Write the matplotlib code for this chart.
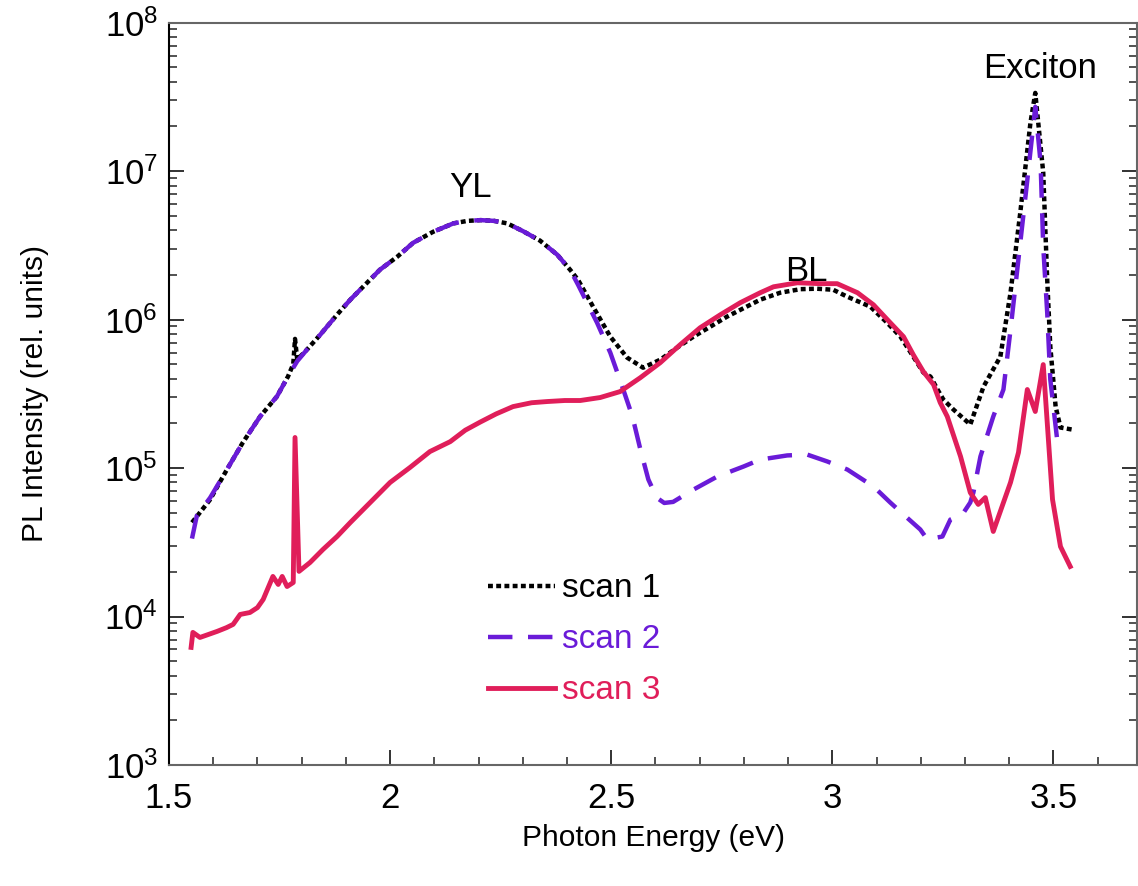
import matplotlib
matplotlib.use("Agg")
import matplotlib.pyplot as plt
from matplotlib.ticker import MultipleLocator, FuncFormatter, LogLocator, NullFormatter
import numpy as np

plt.rcParams['font.family'] = ['Liberation Sans', 'DejaVu Sans']
plt.rcParams['mathtext.fontset'] = 'custom'
plt.rcParams['mathtext.rm'] = 'Liberation Sans'
plt.rcParams['mathtext.it'] = 'Liberation Sans'
plt.rcParams['mathtext.default'] = 'regular'

# ---- data (photon energy in eV, intensity as log10 of rel. units) ----
scan1_x = [1.552, 1.563, 1.593, 1.631, 1.667, 1.706, 1.744, 1.769, 1.781, 1.785, 1.790,
           1.812, 1.842, 1.880, 1.910, 1.977, 2.016, 2.052, 2.097, 2.143, 2.175, 2.205, 2.235,
           2.265, 2.301, 2.339, 2.378, 2.407, 2.425, 2.459, 2.498, 2.536, 2.572, 2.611,
           2.649, 2.686, 2.724, 2.762, 2.837, 2.882, 2.928, 2.965, 3.002, 3.034, 3.086, 3.124,
           3.154, 3.176, 3.206, 3.222, 3.238, 3.251, 3.274, 3.312, 3.342, 3.380, 3.403,
           3.425, 3.448, 3.459, 3.477, 3.486, 3.493, 3.505, 3.516, 3.543]
scan1_log = [4.633, 4.674, 4.788, 4.990, 5.172, 5.347, 5.482, 5.616, 5.700, 5.870, 5.730,
             5.798, 5.898, 6.033, 6.134, 6.336, 6.423, 6.517, 6.591, 6.648, 6.665, 6.670, 6.665,
             6.648, 6.595, 6.532, 6.437, 6.336, 6.268, 6.087, 5.885, 5.744, 5.676, 5.730,
             5.811, 5.885, 5.952, 6.020, 6.134, 6.181, 6.205, 6.208, 6.201, 6.154, 6.087, 5.979,
             5.885, 5.784, 5.643, 5.616, 5.529, 5.462, 5.394, 5.293, 5.549, 5.750, 6.181,
             6.719, 7.325, 7.527, 6.989, 6.268, 5.818, 5.414, 5.273, 5.259]

scan2_x = [1.552, 1.563, 1.593, 1.631, 1.667, 1.706, 1.744, 1.769, 1.790, 1.812, 1.842,
           1.880, 1.910, 1.977, 2.016, 2.052, 2.097, 2.143, 2.175, 2.205, 2.235, 2.265, 2.301,
           2.339, 2.378, 2.407, 2.425, 2.468, 2.498, 2.525, 2.548, 2.566, 2.584, 2.603,
           2.620, 2.640, 2.686, 2.740, 2.799, 2.837, 2.898, 2.943, 2.989, 3.034, 3.093, 3.131,
           3.161, 3.199, 3.215, 3.249, 3.267, 3.294, 3.312, 3.319, 3.335, 3.364, 3.387,
           3.403, 3.419, 3.441, 3.459, 3.471, 3.477, 3.486, 3.493, 3.511]
scan2_log = [4.525, 4.680, 4.800, 4.990, 5.172, 5.347, 5.482, 5.616, 5.720, 5.798, 5.898,
             6.033, 6.134, 6.336, 6.423, 6.517, 6.591, 6.648, 6.665, 6.670, 6.665, 6.648, 6.595,
             6.532, 6.437, 6.336, 6.235, 5.979, 5.777, 5.549, 5.347, 5.125, 4.923, 4.800,
             4.765, 4.772, 4.855, 4.943, 5.010, 5.057, 5.085, 5.091, 5.044, 4.990, 4.876, 4.768,
             4.687, 4.586, 4.519, 4.539, 4.653, 4.687, 4.768, 4.835, 5.078, 5.347, 5.529,
             5.932, 6.356, 6.941, 7.433, 7.056, 6.491, 6.046, 5.596, 5.125]

scan3_x = [1.550, 1.554, 1.570, 1.590, 1.609, 1.630, 1.645, 1.661, 1.683, 1.700, 1.713, 1.735,
           1.747, 1.756, 1.767, 1.781, 1.785, 1.794, 1.819, 1.848, 1.880, 1.910, 1.955,
           2.000, 2.045, 2.090, 2.136, 2.170, 2.204, 2.240, 2.278, 2.320, 2.355, 2.395,
           2.430, 2.475, 2.520, 2.566, 2.611, 2.656, 2.701, 2.747, 2.792, 2.837, 2.867,
           2.921, 2.973, 3.011, 3.057, 3.093, 3.131, 3.161, 3.183, 3.206, 3.229, 3.244,
           3.260, 3.290, 3.312, 3.330, 3.346, 3.364, 3.403, 3.421, 3.441, 3.459, 3.477,
           3.498, 3.516, 3.538]
scan3_log = [3.792, 3.893, 3.859, 3.880, 3.900, 3.925, 3.947, 4.014, 4.027, 4.060, 4.115, 4.270,
             4.216, 4.270, 4.202, 4.229, 5.206, 4.304, 4.364, 4.451, 4.539, 4.633, 4.768,
             4.903, 5.004, 5.111, 5.178, 5.255, 5.310, 5.365, 5.414, 5.440, 5.448, 5.455,
             5.455, 5.475, 5.515, 5.609, 5.710, 5.831, 5.945, 6.033, 6.114, 6.181, 6.221,
             6.248, 6.242, 6.242, 6.181, 6.100, 5.979, 5.885, 5.764, 5.649, 5.562, 5.441,
             5.347, 5.078, 4.835, 4.755, 4.801, 4.573, 4.903, 5.105, 5.529, 5.381, 5.697,
             4.788, 4.471, 4.337]

labels = ["scan 1", "scan 2", "scan 3"]
colors = ["#000000", "#6a1bd8", "#e01e5a"]
annotations = [("YL", 2.181, 7.8e6), ("BL", 2.941, 2.1e6), ("Exciton", 3.470, 4.95e7)]

fig = plt.figure(figsize=(11.38, 8.86), dpi=100)
ax = fig.add_axes([0.1485, 0.1366, 0.851, 0.8378])

ax.plot(scan1_x, 10 ** np.array(scan1_log), color=colors[0], lw=3.2,
        linestyle=(0, (1.1, 0.75)), label=labels[0])
ax.plot(scan2_x, 10 ** np.array(scan2_log), color=colors[1], lw=3.2,
        linestyle=(0, (5.5, 3.5)), label=labels[1])
ax.plot(scan3_x, 10 ** np.array(scan3_log), color=colors[2], lw=3.5,
        linestyle='-', label=labels[2])

ax.set_yscale('log')
ax.set_xlim(1.5, 3.69)
ax.set_ylim(1e3, 1e8)

ax.xaxis.set_major_locator(MultipleLocator(0.5))
ax.xaxis.set_minor_locator(MultipleLocator(0.1))
ax.xaxis.set_major_formatter(FuncFormatter(lambda v, p: f"{v:g}"))
ax.yaxis.set_major_locator(LogLocator(base=10, numticks=10))
ax.yaxis.set_minor_locator(LogLocator(base=10, subs=np.arange(2, 10), numticks=20))
ax.yaxis.set_minor_formatter(NullFormatter())

ax.tick_params(axis='both', which='both', direction='in', top=False, right=True,
               labelsize=25, colors='#222222', labelcolor='black')
ax.tick_params(axis='both', which='major', length=11, width=1.3)
ax.tick_params(axis='x', which='major', pad=12)
ax.tick_params(axis='y', which='major', pad=8)
ax.tick_params(axis='both', which='minor', length=6, width=1.1)

ax.spines['left'].set_color('black')
for side in ['top', 'bottom', 'right']:
    ax.spines[side].set_color('#666666')
for s in ax.spines.values():
    s.set_linewidth(1.5)

ax.set_xlabel("Photon Energy (eV)", fontsize=21.5, labelpad=7)
ax.set_ylabel("PL Intensity (rel. units)", fontsize=21.5, labelpad=40)

for txt, xv, yv in annotations:
    ax.text(xv, yv, txt, fontsize=25, ha='center', va='center')

leg = ax.legend(loc='upper left', bbox_to_anchor=(0.316, 0.276), frameon=False,
                fontsize=24, handlelength=2.0, handletextpad=0.22,
                labelspacing=0.6, labelcolor='linecolor', borderaxespad=0)

fig.savefig("out.png", dpi=100)
